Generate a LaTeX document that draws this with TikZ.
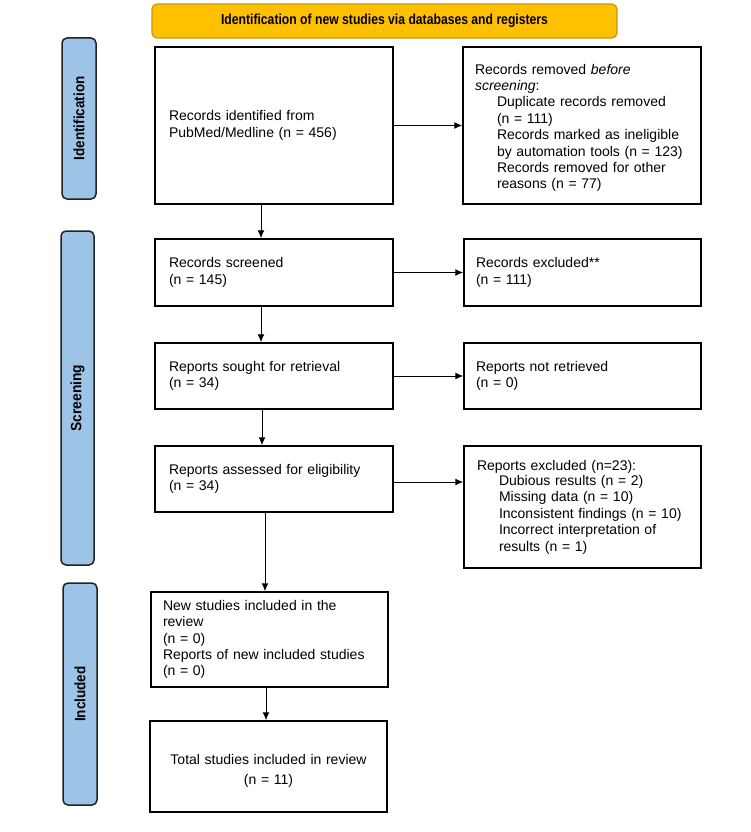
\documentclass[tikz,border=0pt]{standalone}
\usepackage{fontspec}
\usepackage{graphicx}
\setmainfont{Liberation Sans}
\usetikzlibrary{arrows.meta}
\definecolor{hdrfill}{HTML}{FFC000}
\definecolor{hdrline}{HTML}{C8980A}
\definecolor{sidefill}{HTML}{9DC3E6}
\definecolor{sideline}{HTML}{222222}
\begin{document}
\begin{tikzpicture}[x=1pt,y=-1pt,
  every node/.style={font=\fontsize{14}{16.4}\selectfont},
  box/.style={draw=black, line width=1.5pt, fill=white, inner xsep=14pt, inner ysep=0pt, align=left},
  sidelabel/.style={draw=sideline, line width=1.5pt, fill=sidefill, rounded corners=5pt, rotate=90, inner sep=0pt,
     font=\bfseries\fontsize{15}{17}\selectfont},
  hdr/.style={draw=hdrline, line width=1.2pt, fill=hdrfill, rounded corners=5pt, inner sep=0pt},
  arr/.style={line width=1pt, -{Latex[length=8pt,width=7pt]}}
]
\useasboundingbox[fill=white] (0,0) rectangle (750,832);

% header
\node[hdr, minimum width=465pt, minimum height=34pt] (hdr) at (384.5,21)
  {\scalebox{0.84}[1]{\bfseries\fontsize{14.5}{16}\selectfont Identification of new studies via databases and registers}};

% side labels
\node[sidelabel, minimum width=161pt, minimum height=34pt] (sid) at (79,118.5) {\scalebox{0.9}[1]{Identification}};
\node[sidelabel, minimum width=334pt, minimum height=33pt] (sscr) at (77.5,398) {\scalebox{0.92}[1]{Screening}};
\node[sidelabel, minimum width=222pt, minimum height=34pt] (sinc) at (80,694) {\scalebox{0.9}[1]{Included}};

% left column
\node[box, text width=210pt, minimum height=157pt] (ident) at (274,125.5)
  {Records identified from\\PubMed/Medline (n = 456)};
\node[box, text width=210pt, minimum height=67pt] (scr) at (274,272.5)
  {Records screened\\(n = 145)};
\node[box, text width=210pt, minimum height=66pt] (sought) at (274,376)
  {Reports sought for retrieval\\(n = 34)};
\node[box, text width=210pt, minimum height=66pt] (assess) at (274,479)
  {Reports assessed for eligibility\\(n = 34)};
\node[box, inner xsep=12pt, text width=213pt, minimum height=95pt] (newst) at (269.5,639.5)
  {New studies included in the\\review\\(n = 0)\\Reports of new included studies\\(n = 0)};
\node[box, align=center, text width=209pt, minimum height=91pt] (total) at (268.5,766.5)
  {\rule{0pt}{19pt}Total studies included in review\\[3.7pt](n = 11)};

% right column
\node[box, inner xsep=12pt, text width=214pt, minimum height=157pt] (removed) at (582,125.5)
  {\rule{0pt}{15pt}Records removed \textit{before}\\\textit{screening}:\\
   \hspace*{22pt}Duplicate records removed\\
   \hspace*{22pt}(n = 111)\\
   \hspace*{22pt}Records marked as ineligible\\
   \hspace*{22pt}by automation tools (n = 123)\\
   \hspace*{22pt}Records removed for other\\
   \hspace*{22pt}reasons (n = 77)};
\node[box, inner xsep=12pt, text width=213pt, minimum height=67pt] (excl) at (582.5,272.5)
  {Records excluded**\\(n = 111)};
\node[box, inner xsep=12pt, text width=213pt, minimum height=66pt] (notret) at (582.5,376)
  {Reports not retrieved\\(n = 0)};
\node[box, inner xsep=13pt, text width=211pt, minimum height=122pt] (rexcl) at (582.5,507)
  {Reports excluded (n=23):\\[-1pt]
   \hspace*{22pt}Dubious results (n = 2)\\
   \hspace*{22pt}Missing data (n = 10)\\
   \hspace*{22pt}Inconsistent findings (n = 10)\\
   \hspace*{22pt}Incorrect interpretation of\\
   \hspace*{22pt}results (n = 1)\\[11pt]};

% vertical arrow guides
\coordinate (va) at (261,0);
\coordinate (vb) at (262,0);
\coordinate (vc) at (265,0);
\coordinate (vd) at (266,0);
\coordinate (ha) at (0,482);

% vertical arrows
\draw[arr] (ident.south -| va) -- (scr.north -| va);
\draw[arr] (scr.south -| va) -- (sought.north -| va);
\draw[arr] (sought.south -| vb) -- (assess.north -| vb);
\draw[arr] (assess.south -| vc) -- (newst.north -| vc);
\draw[arr] (newst.south -| vd) -- (total.north -| vd);

% horizontal arrows
\draw[arr] (ident.east) -- (removed.west);
\draw[arr] (scr.east) -- (excl.west);
\draw[arr] (sought.east) -- (notret.west);
\draw[arr] (assess.east |- ha) -- (rexcl.west |- ha);
\end{tikzpicture}
\end{document}
